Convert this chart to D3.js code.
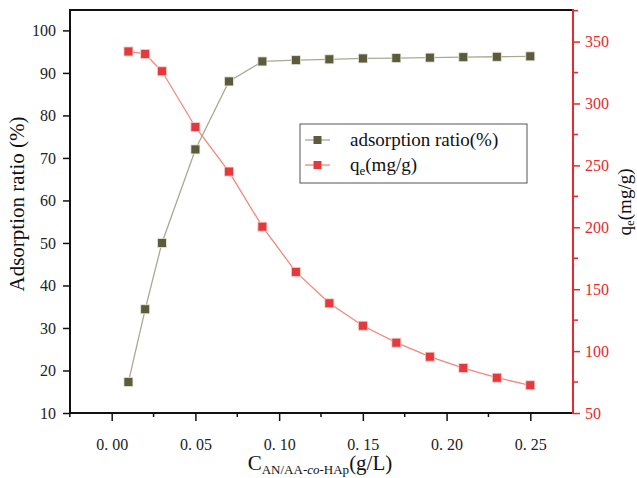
<!DOCTYPE html>
<html>
<head>
<meta charset="utf-8">
<script src="https://cdn.jsdelivr.net/npm/d3@7"></script>
<style>
  body { margin: 0; background: #fff; }
  svg text { font-family: "Liberation Serif", "DejaVu Serif", serif; }
</style>
</head>
<body>
<script>
// data
let dosage     = [0.01, 0.02, 0.03, 0.05, 0.07, 0.09, 0.11, 0.13, 0.15, 0.17, 0.19, 0.21, 0.23, 0.25];
let adsRatio   = [17.3, 34.4, 50.0, 72.0, 88.0, 92.7, 93.0, 93.2, 93.4, 93.5, 93.6, 93.7, 93.8, 93.9];
let qe         = [342, 340, 326, 281, 245, 200.5, 164, 138.6, 120.5, 106.8, 95.5, 86.3, 78.5, 72.4];
let xTicks     = [0, 0.05, 0.10, 0.15, 0.20, 0.25];
let leftTicks  = [10, 20, 30, 40, 50, 60, 70, 80, 90, 100];
let rightTicks = [50, 100, 150, 200, 250, 300, 350];

let w = 637, h = 478;
let pLeft = 70, pRight = 573, pTop = 10, pBottom = 413;
let serif = "Liberation Serif";

let green = "#5c5c3c", greenLine = "#a9a992";
let red = "#e43a3e", redLine = "#f0897c", axisRed = "#e52b2b";

let svg = d3.select("body").append("svg").attr("width", w).attr("height", h);

let x  = d3.scaleLinear().domain([-0.0249, 0.2755]).range([pLeft, pRight]);
let yL = d3.scaleLinear().domain([10, 104.8]).range([pBottom, pTop]);
let yR = d3.scaleLinear().domain([50, 375.5]).range([pBottom, pTop]);

// frame
svg.append("line").attr("x1", pLeft).attr("x2", pRight).attr("y1", pTop).attr("y2", pTop)
    .attr("stroke", "#111").attr("stroke-width", 2);

// bottom axis: minor ticks every 0.025
let xMinor = d3.range(-0.025, 0.27, 0.025).filter(v => Math.abs(v / 0.05 - Math.round(v / 0.05)) > 0.1);
let gx = svg.append("g").attr("transform", `translate(0,${pBottom})`);
gx.selectAll(".minor").data(xMinor).enter().append("line")
    .attr("x1", d => x(d)).attr("x2", d => x(d)).attr("y1", 0).attr("y2", 4)
    .attr("stroke", "#111").attr("stroke-width", 1.5);
gx.call(d3.axisBottom(x).tickValues(xTicks).tickSize(8).tickSizeOuter(0)
        .tickFormat(d => d3.format(".2f")(d).replace(".", ". ")));
gx.attr("font-family", serif);
gx.select(".domain").attr("stroke", "#111").attr("stroke-width", 2)
    .attr("d", `M${pLeft - 1},0H${pRight}`);
gx.selectAll(".tick line").attr("stroke", "#111").attr("stroke-width", 1.5);
gx.selectAll(".tick text").attr("font-size", 16).attr("fill", "#222").attr("dy", "1.6em")
    .style("font-family", serif);

// left axis
let gl = svg.append("g").attr("transform", `translate(${pLeft},0)`);
gl.call(d3.axisLeft(yL).tickValues(leftTicks).tickSize(7).tickSizeOuter(0));
gl.attr("font-family", serif);
gl.select(".domain").attr("stroke", "#111").attr("stroke-width", 2)
    .attr("d", `M0,${pTop - 1}V${pBottom}`);
gl.selectAll(".tick line").attr("stroke", "#111").attr("stroke-width", 1.5);
gl.selectAll(".tick text").attr("font-size", 16).attr("fill", "#222").attr("x", -14)
    .style("font-family", serif);

// right axis (red) with minor ticks every 25
let rMinor = d3.range(75, 376, 50);
let gr = svg.append("g").attr("transform", `translate(${pRight},0)`);
gr.selectAll(".minor").data(rMinor).enter().append("line")
    .attr("x1", 0).attr("x2", 5).attr("y1", d => yR(d)).attr("y2", d => yR(d))
    .attr("stroke", axisRed).attr("stroke-width", 1.5);
gr.call(d3.axisRight(yR).tickValues(rightTicks).tickSize(7).tickSizeOuter(0));
gr.attr("font-family", serif);
gr.select(".domain").attr("stroke", axisRed).attr("stroke-width", 2)
    .attr("d", `M0,${pTop - 1}V${pBottom + 1}`);
gr.selectAll(".tick line").attr("stroke", axisRed).attr("stroke-width", 1.5);
gr.selectAll(".tick text").attr("font-size", 16).attr("fill", axisRed).attr("x", 12)
    .style("font-family", serif);

// axis titles
svg.append("text")
    .attr("transform", `translate(24,204) rotate(-90)`)
    .attr("text-anchor", "middle").attr("font-size", 21).attr("fill", "#111")
    .text("Adsorption ratio (%)");

let rt = svg.append("text")
    .attr("transform", `translate(631,202) rotate(-90)`)
    .attr("text-anchor", "middle").attr("font-size", 19).attr("fill", "#111");
rt.append("tspan").text("q");
rt.append("tspan").attr("font-size", 13).attr("dy", 3).text("e");
rt.append("tspan").attr("dy", -3).text("(mg/g)");

let xt = svg.append("text")
    .attr("x", 320).attr("y", 470)
    .attr("text-anchor", "middle").attr("font-size", 21).attr("fill", "#111");
xt.append("tspan").text("C");
xt.append("tspan").attr("font-size", 13).attr("dy", 4).text("AN/AA-");
xt.append("tspan").attr("font-size", 13).attr("font-style", "italic").text("co");
xt.append("tspan").attr("font-size", 13).text("-HAp");
xt.append("tspan").attr("dy", -4).text("(g/L)");

// series
let ms = 9;
let lineL = d3.line().x((d, i) => x(dosage[i])).y(d => yL(d));
let lineR = d3.line().x((d, i) => x(dosage[i])).y(d => yR(d));

svg.append("path").datum(adsRatio).attr("d", lineL)
    .attr("fill", "none").attr("stroke", greenLine).attr("stroke-width", 1.3);
svg.append("path").datum(qe).attr("d", lineR)
    .attr("fill", "none").attr("stroke", redLine).attr("stroke-width", 1.3);

svg.selectAll(".mg").data(adsRatio).enter().append("rect")
    .attr("x", (d, i) => x(dosage[i]) - ms / 2).attr("y", d => yL(d) - ms / 2)
    .attr("width", ms).attr("height", ms)
    .attr("fill", green).attr("stroke", "#e8e8dc").attr("stroke-width", 0.8);
svg.selectAll(".mr").data(qe).enter().append("rect")
    .attr("x", (d, i) => x(dosage[i]) - ms / 2).attr("y", d => yR(d) - ms / 2)
    .attr("width", ms).attr("height", ms)
    .attr("fill", red).attr("stroke", "#f6d0cc").attr("stroke-width", 0.8);

// legend
let lg = svg.append("g").attr("transform", "translate(300,124)");
lg.append("rect").attr("width", 227).attr("height", 59)
    .attr("fill", "#fff").attr("stroke", "#555").attr("stroke-width", 1);
let legendItems = [
  { label: "adsorption ratio(%)", c: green, lc: greenLine },
  { label: "q", c: red, lc: redLine }
];
legendItems.forEach((d, i) => {
  let cy = 16 + i * 25;
  lg.append("line").attr("x1", 5).attr("x2", 30).attr("y1", cy).attr("y2", cy)
      .attr("stroke", d.lc).attr("stroke-width", 1.3);
  lg.append("rect").attr("x", 17.5 - 4).attr("y", cy - 4).attr("width", 8).attr("height", 8)
      .attr("fill", d.c);
  let t = lg.append("text").attr("x", 50).attr("y", cy + 6).attr("font-size", 19).attr("fill", "#111");
  t.append("tspan").text(d.label);
  if (i === 1) {
    t.append("tspan").attr("font-size", 13).attr("dy", 4).text("e");
    t.append("tspan").attr("dy", -4).text("(mg/g)");
  }
});
</script>
</body>
</html>
